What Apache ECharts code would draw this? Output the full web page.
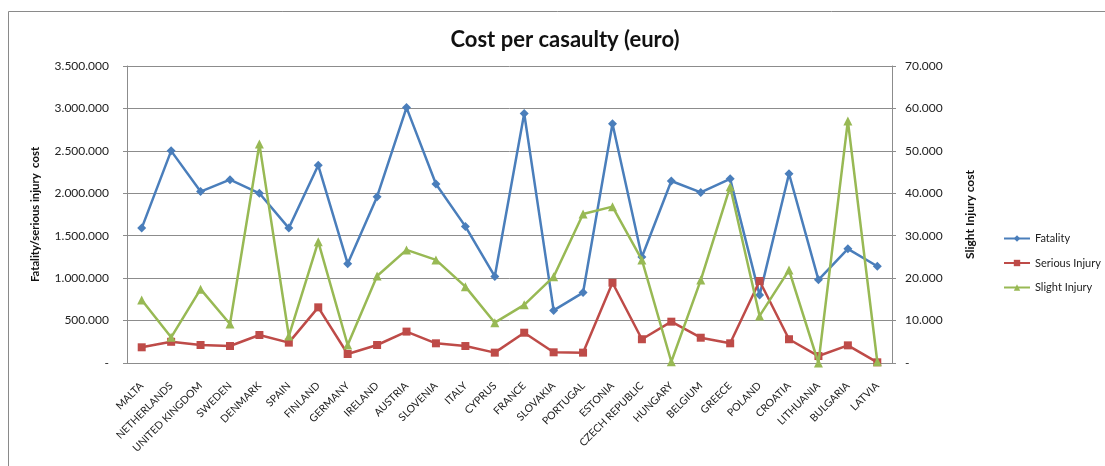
<!DOCTYPE html>
<html>
<head>
<meta charset="utf-8">
<script src="https://cdn.jsdelivr.net/npm/echarts@6/dist/echarts.min.js"></script>
<style>
  html, body { margin: 0; padding: 0; background: #fff; }
  #chart { width: 1105px; height: 466px; }
</style>
</head>
<body>
<div id="chart"></div>
<script>
// Countries along the category axis
const countries = [
  'MALTA', 'NETHERLANDS', 'UNITED KINGDOM', 'SWEDEN', 'DENMARK', 'SPAIN',
  'FINLAND', 'GERMANY', 'IRELAND', 'AUSTRIA', 'SLOVENIA', 'ITALY', 'CYPRUS',
  'FRANCE', 'SLOVAKIA', 'PORTUGAL', 'ESTONIA', 'CZECH REPUBLIC', 'HUNGARY',
  'BELGIUM', 'GREECE', 'POLAND', 'CROATIA', 'LITHUANIA', 'BULGARIA', 'LATVIA'
];

// Cost per fatality (euro), left axis
const fatality = [
  1590000, 2500000, 2020000, 2160000, 2000000, 1590000,
  2330000, 1170000, 1960000, 3010000, 2110000, 1610000, 1020000,
  2940000, 620000, 830000, 2820000, 1250000, 2145000,
  2010000, 2170000, 800000, 2230000, 980000, 1345000, 1140000
];

// Cost per serious injury (euro), left axis
const seriousInjury = [
  185000, 250000, 212000, 200000, 330000, 240000,
  656000, 106000, 212000, 370000, 232000, 200000, 122000,
  357000, 126000, 122000, 946000, 280000, 487000,
  298000, 232000, 966000, 280000, 82000, 208000, 8000
];

// Cost per slight injury (euro), right axis
const slightInjury = [
  14850, 6050, 17400, 9200, 51600, 6350,
  28600, 4250, 20500, 26650, 24300, 18000, 9500,
  13700, 20350, 35100, 36850, 24300, 300,
  19550, 41550, 11100, 21900, 0, 57050, 300
];

// Axis ticks
const leftTicks = { min: 0, max: 3500000, step: 500000 };
const rightTicks = { min: 0, max: 70000, step: 10000 };

const FONT = 'Lato, "Open Sans", sans-serif';
const GRID_GRAY = '#8c8c8c';
const TEXT = '#222';

// Dotted thousands separator, dash for zero
function fmt(v) {
  if (v === 0) return '-';
  return String(Math.round(v)).replace(/\B(?=(\d{3})+(?!\d))/g, '.');
}

const chart = echarts.init(document.getElementById('chart'), null, { renderer: 'canvas' });

const option = {
  backgroundColor: '#fff',
  animation: false,
  textStyle: { fontFamily: FONT },
  title: {
    text: 'Cost per casaulty (euro)',
    left: 560,
    top: 24,
    textAlign: 'center',
    textStyle: { fontFamily: FONT, fontSize: 22, fontWeight: 'bold', color: '#111' }
  },
  graphic: [{
    type: 'rect',
    shape: { x: 8.5, y: 11.5, width: 1200, height: 600 },
    style: { fill: 'none', stroke: '#8a8a8a', lineWidth: 1 },
    silent: true,
    z: -1
  }],
  legend: {
    orient: 'vertical',
    left: 998,
    top: 228,
    itemWidth: 26,
    itemHeight: 8,
    itemGap: 13.5,
    textStyle: { fontFamily: FONT, fontSize: 11, color: TEXT },
    data: ['Fatality', 'Serious Injury', 'Slight Injury']
  },
  grid: { left: 127, right: 213, top: 66, bottom: 103, containLabel: false },
  xAxis: {
    type: 'category',
    data: countries,
    boundaryGap: true,
    axisLine: { show: true, lineStyle: { color: GRID_GRAY, width: 1 } },
    axisTick: { show: false },
    axisLabel: {
      rotate: 45,
      interval: 0,
      margin: 21,
      fontFamily: FONT,
      fontSize: 10.5,
      color: TEXT
    }
  },
  yAxis: [{
    type: 'value',
    position: 'left',
    min: leftTicks.min,
    max: leftTicks.max,
    interval: leftTicks.step,
    name: 'Fatality/serious injury  cost',
    nameLocation: 'middle',
    nameGap: 86,
    nameTextStyle: { fontFamily: FONT, fontSize: 11.3, fontWeight: 'bold', color: '#111' },
    axisLine: { show: true, lineStyle: { color: GRID_GRAY } },
    axisTick: { show: true, length: 4, lineStyle: { color: GRID_GRAY } },
    splitLine: { show: true, lineStyle: { color: GRID_GRAY, width: 1 } },
    axisLabel: { formatter: fmt, fontFamily: FONT, fontSize: 12, color: TEXT, margin: 18 }
  }, {
    type: 'value',
    position: 'right',
    min: rightTicks.min,
    max: rightTicks.max,
    interval: rightTicks.step,
    name: 'Slight Injury cost',
    nameLocation: 'middle',
    nameGap: 72,
    nameRotate: 90,
    nameTextStyle: { fontFamily: FONT, fontSize: 12, fontWeight: 'bold', color: '#111' },
    axisLine: { show: true, lineStyle: { color: GRID_GRAY } },
    axisTick: { show: true, length: 4, lineStyle: { color: GRID_GRAY } },
    splitLine: { show: false },
    axisLabel: { formatter: fmt, fontFamily: FONT, fontSize: 12, color: TEXT, margin: 13 }
  }],
  series: [{
    name: 'Fatality',
    type: 'line',
    yAxisIndex: 0,
    data: fatality,
    symbol: 'diamond',
    symbolSize: 9,
    lineStyle: { color: '#4a7ebb', width: 2.5 },
    itemStyle: { color: '#4a7ebb' },
    z: 3
  }, {
    name: 'Serious Injury',
    type: 'line',
    yAxisIndex: 0,
    data: seriousInjury,
    symbol: 'rect',
    symbolSize: 8,
    lineStyle: { color: '#be4b48', width: 2.5 },
    itemStyle: { color: '#be4b48' },
    z: 4
  }, {
    name: 'Slight Injury',
    type: 'line',
    yAxisIndex: 1,
    data: slightInjury,
    symbol: 'triangle',
    symbolSize: 9,
    lineStyle: { color: '#98b954', width: 2.5 },
    itemStyle: { color: '#98b954' },
    z: 5
  }]
};

chart.setOption(option);
</script>
</body>
</html>
